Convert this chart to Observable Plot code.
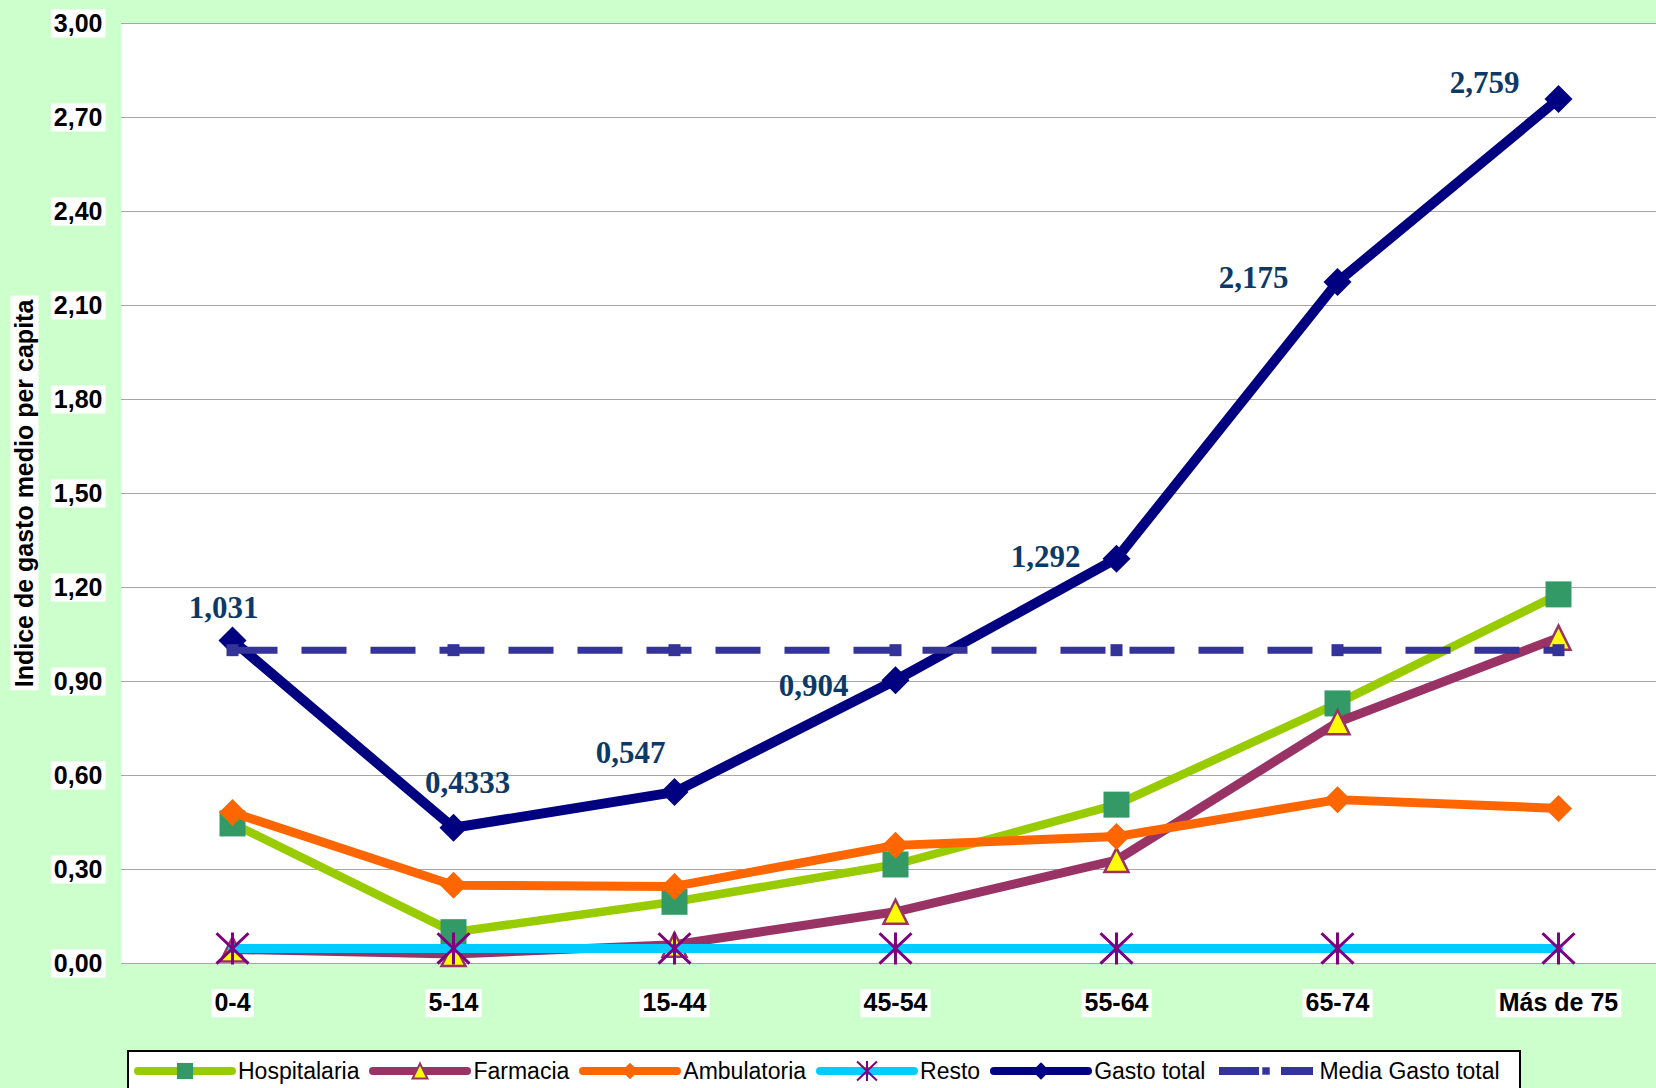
<!DOCTYPE html>
<html>
<head>
<meta charset="utf-8">
<script src="https://cdn.jsdelivr.net/npm/d3@7"></script>
<script src="https://cdn.jsdelivr.net/npm/@observablehq/plot@0.6"></script>
<style>
  html, body { margin: 0; padding: 0; background: #CCFFCC; width: 1656px; height: 1088px; overflow: hidden; }
  #chart { position: absolute; left: 0; top: 0; }
  #legend {
    position: absolute; left: 127px; top: 1050px; width: 1394px; height: 40px;
    background: white; border: 2px solid black; box-sizing: border-box;
    display: flex; align-items: center; padding: 2px 0 0 4px;
    font-family: 'Liberation Sans', Arial, sans-serif; font-size: 23px; color: black;
  }
  .item { display: flex; align-items: center; margin-right: 9px; white-space: nowrap; }
  .item svg { margin-right: 1px; }
</style>
</head>
<body>
<div id="chart"></div>
<div id="legend"></div>
<script>
// ---- data ----
const categories = ["0-4", "5-14", "15-44", "45-54", "55-64", "65-74", "Más de 75"];
const hospitalaria = [0.447, 0.10, 0.197, 0.316, 0.507, 0.83, 1.178];
const farmacia = [0.045, 0.03, 0.06, 0.165, 0.33, 0.77, 1.04];
const ambulatoria = [0.482, 0.25, 0.246, 0.377, 0.405, 0.523, 0.495];
const resto = [0.048, 0.048, 0.048, 0.048, 0.048, 0.048, 0.048];
const gastoTotal = [1.031, 0.4333, 0.547, 0.904, 1.292, 2.175, 2.759];
const mediaGastoTotal = [1, 1, 1, 1, 1, 1, 1];
const gastoLabels = ["1,031", "0,4333", "0,547", "0,904", "1,292", "2,175", "2,759"];
const yTicks = [0, 0.3, 0.6, 0.9, 1.2, 1.5, 1.8, 2.1, 2.4, 2.7, 3.0];
const yTitle = "Indice de gasto medio per capita";

// ---- layout (label offsets, px) ----
const labelDx = [-9, 14, -44, -82, -71, -84, -74];
const labelDy = [-32, -45, -39, 6, -2, -4, -16];

const rows = categories.map((c, i) => ({
  cat: c, hosp: hospitalaria[i], farm: farmacia[i], amb: ambulatoria[i],
  resto: resto[i], gasto: gastoTotal[i], media: mediaGastoTotal[i], lab: gastoLabels[i], i
}));

// custom marker shapes (r = half size)
const half = s => Math.sqrt(s / Math.PI);
const sqSym = { draw(c, s) { const r = half(s); c.moveTo(-r, -r); c.lineTo(r, -r); c.lineTo(r, r); c.lineTo(-r, r); c.closePath(); } };
const diaSym = { draw(c, s) { const r = half(s); c.moveTo(0, -r); c.lineTo(r, 0); c.lineTo(0, r); c.lineTo(-r, 0); c.closePath(); } };
const triSym = { draw(c, s) { const r = half(s); c.moveTo(0, -r); c.lineTo(r, r); c.lineTo(-r, r); c.closePath(); } };
const astSym = { draw(c, s) { const r = half(s); c.moveTo(0, -r); c.lineTo(0, r); c.moveTo(-r, -r * 0.95); c.lineTo(r, r * 0.95); c.moveTo(-r, r * 0.95); c.lineTo(r, -r * 0.95); } };

const series = [
  { key: "hosp", name: "Hospitalaria", line: "#99CC00", lw: 8.5, sym: sqSym, r: 13, fill: "#339966", stroke: "none", sw: 0 },
  { key: "farm", name: "Farmacia", line: "#993366", lw: 9, sym: triSym, r: 12, fill: "#FFFF00", stroke: "#993366", sw: 2.5 },
  { key: "amb", name: "Ambulatoria", line: "#FF6600", lw: 9, sym: diaSym, r: 13.5, fill: "#FF6600", stroke: "none", sw: 0 },
  { key: "resto", name: "Resto", line: "#00CCFF", lw: 9, sym: astSym, r: 16, fill: "none", stroke: "#800080", sw: 3 },
  { key: "gasto", name: "Gasto total", line: "#000080", lw: 10, sym: diaSym, r: 14, fill: "#000080", stroke: "none", sw: 0 },
  { key: "media", name: "Media Gasto total", line: "#333399", lw: 7, sym: sqSym, r: 6, fill: "#333399", stroke: "none", sw: 0, dash: "45,24" }
];

const fmt = d => d.toFixed(2).replace(".", ",");

const marks = [
  Plot.frame({ fill: "white", stroke: null }),
  Plot.gridY(yTicks, { stroke: "#a6a6a6", strokeOpacity: 1, strokeWidth: 1.2 }),
  Plot.axisY(yTicks, { tickSize: 0, tickPadding: 19, tickFormat: fmt, fill: "black", fontSize: 25, fontWeight: "bold", label: null }),
  Plot.axisX({ tickSize: 0, tickPadding: 30, fill: "black", fontSize: 25, fontWeight: "bold", label: null }),
  Plot.text([yTitle], { frameAnchor: "left", dx: -97, rotate: -90, text: d => d, textAnchor: "middle", lineAnchor: "middle", fontSize: 25, fontWeight: "bold", fill: "black" })
];

for (const s of series) {
  marks.push(Plot.line(rows, {
    x: "cat", y: s.key, stroke: s.line, strokeWidth: s.lw,
    strokeDasharray: s.dash, strokeLinecap: s.dash ? "butt" : "round", strokeLinejoin: "round"
  }));
  marks.push(Plot.dot(rows, {
    x: "cat", y: s.key, symbol: s.sym, r: s.r, fill: s.fill, stroke: s.stroke, strokeWidth: s.sw
  }));
}

rows.forEach((row, i) => {
  marks.push(Plot.text([row], {
    x: "cat", y: "gasto", text: "lab", dx: labelDx[i], dy: labelDy[i],
    fontFamily: "'Liberation Serif', 'Times New Roman', serif", fontWeight: "bold", fontSize: 31, fill: "#0b3a68"
  }));
});

const chart = Plot.plot({
  width: 1656, height: 1050,
  marginLeft: 121, marginRight: 0, marginTop: 23, marginBottom: 87,
  x: { type: "point", domain: categories, range: [232, 1558], padding: 0, label: null },
  y: { domain: [0, 3], label: null },
  style: { background: "transparent", fontFamily: "'Liberation Sans', Arial, sans-serif", color: "black", overflow: "visible" },
  marks
});
document.getElementById("chart").appendChild(chart);

// white boxes behind axis labels and title
const boxed = new Set([...categories, ...yTicks.map(fmt), yTitle]);
chart.querySelectorAll("text").forEach(t => {
  if (!boxed.has(t.textContent)) return;
  const b = t.getBBox();
  const r = document.createElementNS("http://www.w3.org/2000/svg", "rect");
  const pad = 3;
  r.setAttribute("x", b.x - pad);
  r.setAttribute("y", b.y + 1);
  r.setAttribute("width", b.width + 2 * pad);
  r.setAttribute("height", b.height);
  r.setAttribute("fill", "white");
  if (t.getAttribute("transform")) r.setAttribute("transform", t.getAttribute("transform"));
  t.parentNode.insertBefore(r, t);
});

// legend
const legend = document.getElementById("legend");
for (const s of series) {
  const item = document.createElement("div");
  item.className = "item";
  const sv = d3.create("svg").attr("width", 104).attr("height", 24);
  sv.append("line").attr("x1", 5).attr("x2", 99).attr("y1", 12).attr("y2", 12)
    .attr("stroke", s.line).attr("stroke-width", 8)
    .attr("stroke-linecap", s.dash ? "butt" : "round")
    .attr("stroke-dasharray", s.dash ? "40,22" : null);
  const rr = s.r * 0.62;
  sv.append("path").attr("transform", "translate(52,12)")
    .attr("d", d3.symbol(s.sym, Math.PI * rr * rr)())
    .attr("fill", s.fill).attr("stroke", s.stroke).attr("stroke-width", s.sw ? 2 : 0);
  item.appendChild(sv.node());
  const lab = document.createElement("span");
  lab.textContent = s.name;
  item.appendChild(lab);
  legend.appendChild(item);
}
</script>
</body>
</html>
